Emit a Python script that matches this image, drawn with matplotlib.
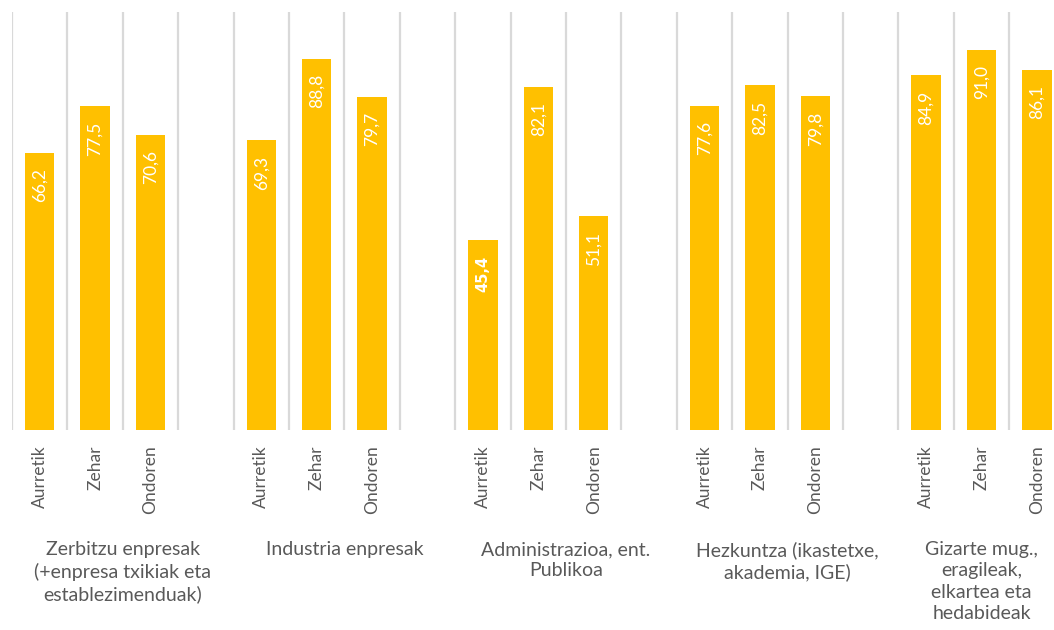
import matplotlib.pyplot as plt
from matplotlib.transforms import blended_transform_factory

groups = ['Zerbitzu enpresak\n(+enpresa txikiak eta\nestablezimenduak)',
          'Industria enpresak',
          'Administrazioa, ent.\nPublikoa',
          'Hezkuntza (ikastetxe,\nakademia, IGE)',
          'Gizarte mug.,\neragileak,\nelkartea eta\nhedabideak']
phases = ['Aurretik', 'Zehar', 'Ondoren']
values = [[66.2, 77.5, 70.6],
          [69.3, 88.8, 79.7],
          [45.4, 82.1, 51.1],
          [77.6, 82.5, 79.8],
          [84.9, 91.0, 86.1]]
bold_labels = [(2, 0)]  # 45,4 is bold in the original

bar_color = '#FFC000'
grid_color = '#D9D9D9'
text_color = '#595959'
plt.rcParams['font.family'] = ['Lato', 'DejaVu Sans']

fig = plt.figure(figsize=(10.54, 6.3), dpi=100)
# axes runs a bit past the right edge of the picture, like the original
slot_w = 55.4 / 1054
ax = fig.add_axes([12 / 1054, 200 / 630, 19 * slot_w, 418 / 630])

xs, ticklabels = [], []
for g, vals in enumerate(values):
    for i, v in enumerate(vals):
        x = 4 * g + i
        xs.append(x)
        ticklabels.append(phases[i])
        ax.bar(x, v, width=0.53, color=bar_color, zorder=2)
        label = f'{v:.1f}'.replace('.', ',')
        if (g, i) in bold_labels:
            ax.annotate(label, (x, v), xytext=(0, -11), textcoords='offset points',
                        rotation=90, ha='center', va='top', color='white',
                        fontsize=10.5, fontweight='bold', family=['DejaVu Sans'], zorder=3)
        else:
            ax.annotate(label, (x, v), xytext=(0, -11), textcoords='offset points',
                        rotation=90, ha='center', va='top', color='white',
                        fontsize=12.5, zorder=3)

# category separators
for k in range(20):
    ax.axvline(k - 0.5, color=grid_color, linewidth=1.6, zorder=1)

ax.set_xlim(-0.5, 18.5)
ax.set_ylim(0, 100)
ax.set_xticks(xs)
ax.set_xticklabels(ticklabels, rotation=90, color=text_color, fontsize=12.5)
ax.tick_params(axis='x', length=0, pad=11)
ax.set_yticks([])
for s in ax.spines.values():
    s.set_visible(False)

# group names under the ticks
trans = blended_transform_factory(ax.transData, fig.transFigure)
for g, name in enumerate(groups):
    cx = 4 * g + 1.5 if g < len(groups) - 1 else 4 * g + 1
    ax.text(cx, 1 - 541 / 630, name, transform=trans, ha='center', va='top',
            color=text_color, fontsize=14, linespacing=1.32, clip_on=False)

fig.savefig('out.png', dpi=100)
